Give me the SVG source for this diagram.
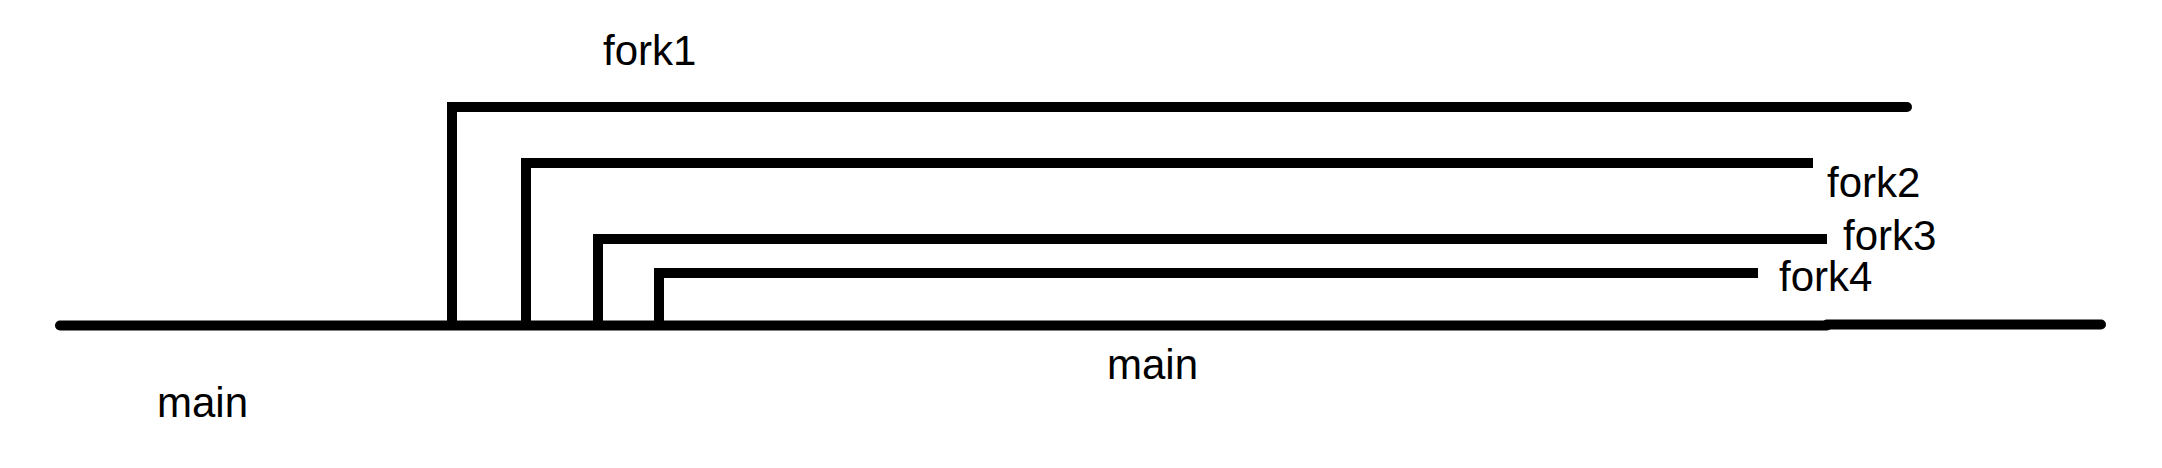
<svg xmlns="http://www.w3.org/2000/svg" width="2162" height="468" viewBox="0 0 2162 468">
<style>
.ln{fill:none;stroke:#000;stroke-width:10;stroke-linejoin:miter}
.rc{stroke-linecap:round}
.t{font-family:"Liberation Sans",Arial,sans-serif;font-size:42px;fill:#000}
</style>
<rect width="2162" height="468" fill="#fff"/>
<g id="connectors">
<line class="ln rc" x1="60" y1="325.5" x2="1827" y2="325.5"/>
<line class="ln rc" x1="1827" y1="324.5" x2="2101" y2="324.5"/>
</g>
<g id="fork1">
<path class="ln" d="M452,322 V107 H1907"/>
<line class="ln rc" x1="1900" y1="107" x2="1907" y2="107"/>
<text class="t" x="603" y="65">fork1</text>
</g>
<g id="fork2">
<path class="ln" d="M526,322 V163 H1813"/>
<text class="t" x="1827" y="197">fork2</text>
</g>
<g id="fork3">
<path class="ln" d="M598,322 V239 H1827"/>
<text class="t" x="1843" y="250">fork3</text>
</g>
<g id="fork4">
<path class="ln" d="M659,322 V273 H1758"/>
<text class="t" x="1779" y="291">fork4</text>
</g>
<g id="main">
<text class="t" x="157" y="417">main</text>
<text class="t" x="1107" y="379">main</text>
</g>
</svg>
